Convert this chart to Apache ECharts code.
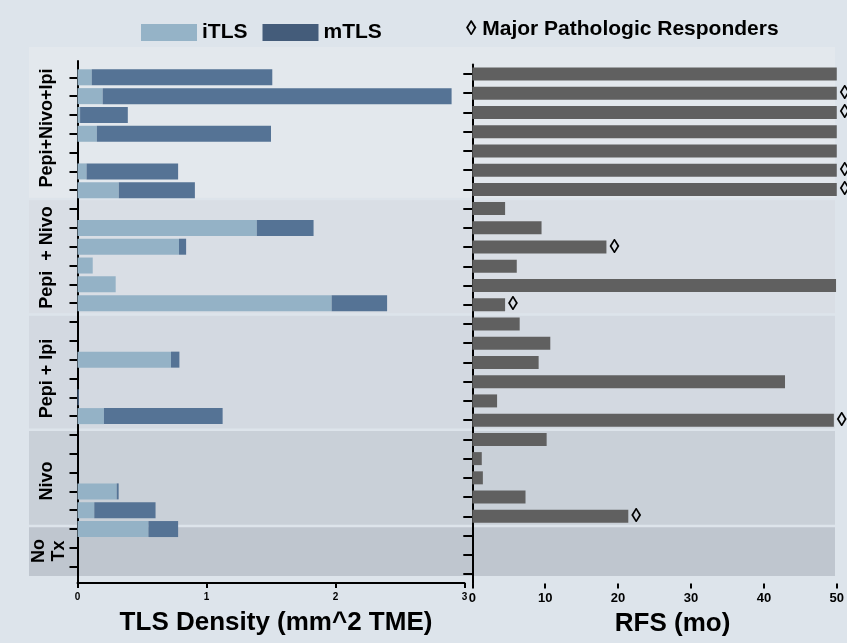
<!DOCTYPE html>
<html>
<head>
<meta charset="utf-8">
<title>TLS density and RFS by treatment arm</title>
<script src="https://cdn.jsdelivr.net/npm/echarts@6/dist/echarts.min.js"></script>
<style>
  html, body { margin: 0; padding: 0; background: #dde4eb; }
  #chart { width: 847px; height: 643px; }
</style>
</head>
<body>
<div id="chart"></div>
<script>
// Patients, top to bottom, grouped by treatment arm
const groupNames = ['Pepi+Nivo+Ipi', 'Pepi  + Nivo', 'Pepi + Ipi', 'Nivo', 'No\nTx'];
const groupSizes = [7, 6, 6, 5, 3];
const patients = [
  'PNI-1', 'PNI-2', 'PNI-3', 'PNI-4', 'PNI-5', 'PNI-6', 'PNI-7',
  'PN-1', 'PN-2', 'PN-3', 'PN-4', 'PN-5', 'PN-6',
  'PI-1', 'PI-2', 'PI-3', 'PI-4', 'PI-5', 'PI-6',
  'N-1', 'N-2', 'N-3', 'N-4', 'N-5',
  'NT-1', 'NT-2', 'NT-3'
];

// TLS density (mm^2 TME)
const iTLS = [0.11, 0.195, 0.02, 0.15, 0, 0.07, 0.32,
              0, 1.39, 0.787, 0.118, 0.296, 1.97,
              0, 0, 0.725, 0, 0, 0.205,
              0, 0, 0, 0.304, 0.13,
              0.55, 0, 0];
const mTLS = [1.40, 2.705, 0.37, 1.35, 0, 0.71, 0.59,
              0, 0.44, 0.055, 0, 0, 0.43,
              0, 0, 0.065, 0, 0.01, 0.92,
              0, 0, 0, 0.015, 0.475,
              0.23, 0, 0];

// Recurrence-free survival (months) and major pathologic response flag
const rfs = [50, 50, 50, 50, 50, 50, 50,
             4.5, 9.5, 18.4, 6.1, 49.9, 4.5,
             6.5, 10.7, 9.1, 42.9, 3.4, 49.6,
             10.2, 1.3, 1.45, 7.3, 21.4,
             null, null, null];
const mpr = [0, 1, 1, 0, 0, 1, 1,
             0, 0, 1, 0, 0, 1,
             0, 0, 0, 0, 0, 1,
             0, 0, 0, 0, 1,
             0, 0, 0];

const tlsTicks = [0, 1, 2, 3];
const rfsTicks = [0, 10, 20, 30, 40, 50];

// ---- layout ----
const FONT = 'Liberation Sans, Arial, sans-serif';
const left = { x: 77.5, w: 387, top: 67.9, h: 508.2, frameTop: 61, frameBottom: 583 };
const right = { x: 472.3, w: 366.7, top: 64.4, h: 519.2 };
const band = { x0: 29, x1: 835, top: 47, bottom: 576, gap: 2.5 };
const bandColors = ['#e3e8ed', '#d9dee5', '#d3d9e1', '#c9d0d8', '#bfc6cf'];
const groupLabelPos = [[47, 128], [47, 257.5], [47, 378.5], [47, 481], [49, 551]];

// background bands follow the row boundaries of the RFS panel
const pitch = right.h / patients.length;
const edges = [band.top];
let cum = 0;
groupSizes.forEach((n, i) => {
  cum += n;
  edges.push(i === groupSizes.length - 1 ? band.bottom : right.top + cum * pitch);
});
const graphics = [];
groupSizes.forEach((n, i) => {
  const y0 = edges[i] + (i === 0 ? 0 : band.gap / 2);
  const y1 = edges[i + 1] - (i === groupSizes.length - 1 ? 0 : band.gap / 2);
  graphics.push({
    type: 'rect', z: -10, silent: true,
    shape: { x: band.x0, y: y0, width: band.x1 - band.x0, height: y1 - y0 },
    style: { fill: bandColors[i] }
  });
});
groupNames.forEach((name, i) => {
  graphics.push({
    type: 'text', z: 10, silent: true,
    x: groupLabelPos[i][0], y: groupLabelPos[i][1], rotation: Math.PI / 2,
    style: {
      text: name, fill: '#000', font: 'bold 18px ' + FONT,
      align: 'center', verticalAlign: 'middle', lineHeight: 20
    }
  });
});

const blackLine = { lineStyle: { color: '#000', width: 2 } };

const option = {
  backgroundColor: '#dde4eb',
  animation: false,
  title: {
    text: '\u25CA Major Pathologic Responders',
    left: 466, top: 19, padding: 0,
    textStyle: { fontFamily: FONT, fontWeight: 'bold', fontSize: 21, color: '#000' }
  },
  legend: {
    left: 141, top: 22, padding: 0,
    itemWidth: 56, itemHeight: 17, itemGap: 15,
    icon: 'rect',
    textStyle: { fontFamily: FONT, fontWeight: 'bold', fontSize: 21, color: '#000' },
    data: [
      { name: 'iTLS', itemStyle: { color: '#95b3c7' } },
      { name: 'mTLS', itemStyle: { color: '#445c7a' } }
    ]
  },
  graphic: graphics,
  grid: [
    { left: left.x, top: left.top, width: left.w, height: left.h },
    { left: left.x, top: left.frameTop, width: left.w, height: left.frameBottom - left.frameTop },
    { left: right.x, top: right.top, width: right.w, height: right.h }
  ],
  xAxis: [
    { gridIndex: 0, type: 'value', min: tlsTicks[0], max: tlsTicks[tlsTicks.length - 1], show: false },
    {
      gridIndex: 1, type: 'value', min: tlsTicks[0], max: tlsTicks[tlsTicks.length - 1], interval: 1,
      axisLine: blackLine,
      axisTick: { show: true, length: 5, lineStyle: { color: '#000', width: 2 } },
      axisLabel: { color: '#000', fontFamily: FONT, fontWeight: 'bold', fontSize: 10, margin: 9 },
      splitLine: { show: false },
      name: 'TLS Density (mm^2 TME)', nameLocation: 'middle', nameGap: 27,
      nameTextStyle: { fontFamily: FONT, fontWeight: 'bold', fontSize: 26, color: '#000', padding: [0, 0, 0, 10] }
    },
    {
      gridIndex: 2, type: 'value', min: rfsTicks[0], max: rfsTicks[rfsTicks.length - 1], interval: 10,
      axisLine: blackLine,
      axisTick: { show: true, length: 5, lineStyle: { color: '#000', width: 2 } },
      axisLabel: { color: '#000', fontFamily: FONT, fontWeight: 'bold', fontSize: 13, margin: 8 },
      splitLine: { show: false },
      name: 'RFS (mo)', nameLocation: 'middle', nameGap: 27,
      nameTextStyle: { fontFamily: FONT, fontWeight: 'bold', fontSize: 26, color: '#000', padding: [0, 0, 0, 36] }
    }
  ],
  yAxis: [
    {
      gridIndex: 0, type: 'category', data: patients, inverse: true,
      axisLine: { show: false },
      axisTick: { show: true, alignWithLabel: true, interval: 0, length: 8, lineStyle: { color: '#000', width: 2 } },
      axisLabel: { show: false },
      splitLine: { show: false }
    },
    {
      gridIndex: 1, type: 'value', min: 0, max: 1,
      axisLine: { show: true, onZero: false, lineStyle: { color: '#000', width: 2 } },
      axisTick: { show: false }, axisLabel: { show: false }, splitLine: { show: false }
    },
    {
      gridIndex: 2, type: 'category', data: patients, inverse: true,
      axisLine: blackLine,
      axisTick: { show: true, alignWithLabel: true, interval: 0, length: 9, lineStyle: { color: '#000', width: 2 } },
      axisLabel: { show: false },
      splitLine: { show: false }
    }
  ],
  series: [
    {
      name: 'iTLS', type: 'bar', stack: 'tls', xAxisIndex: 0, yAxisIndex: 0,
      barWidth: 16, data: iTLS,
      itemStyle: { color: '#94b2c6' }
    },
    {
      name: 'mTLS', type: 'bar', stack: 'tls', xAxisIndex: 0, yAxisIndex: 0,
      barWidth: 16, data: mTLS,
      itemStyle: { color: '#557395' }
    },
    {
      name: 'RFS', type: 'bar', xAxisIndex: 2, yAxisIndex: 2,
      barWidth: 13,
      data: rfs.map((v, i) => ({
        value: v,
        label: {
          show: mpr[i] === 1, position: 'right', distance: 3,
          formatter: '\u25CA', color: '#000',
          fontFamily: FONT, fontWeight: 'bold', fontSize: 20
        }
      })),
      itemStyle: { color: '#606060' }
    }
  ]
};

const chart = echarts.init(document.getElementById('chart'), null, { renderer: 'canvas' });
chart.setOption(option);
</script>
</body>
</html>
